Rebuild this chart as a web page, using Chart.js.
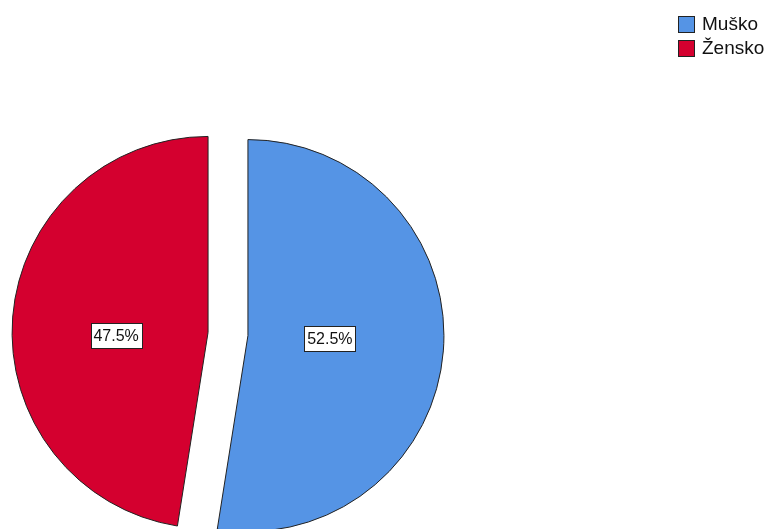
<!DOCTYPE html>
<html lang="hr">
<head>
<meta charset="UTF-8">
<title>Spol</title>
<script src="https://cdn.jsdelivr.net/npm/chart.js"></script>
<style>
  body { margin: 0; background: #fff; font-family: "Liberation Sans", Arial, sans-serif; }
  .wrap { position: relative; width: 764px; height: 529px; overflow: hidden; }
  .legend { position: absolute; left: 678px; top: 12px; }
  .legend-item { display: flex; align-items: center; height: 24px; font-size: 19px; color: #111; }
  .legend-box { width: 15px; height: 15px; border: 1px solid #222; margin-right: 7px; }
</style>
</head>
<body>
<div class="wrap">
  <canvas id="pie"></canvas>
  <div class="legend" id="legend"></div>
</div>
<script>
// podaci
const categories = ['Muško', 'Žensko'];
const percentages = [52.5, 47.5];
const sliceColors = ['#5594e5', '#d4002f'];

const EXPLODE = 20; // razmak izvučenih isječaka od središta (px)

// legenda (HTML)
const legend = document.getElementById('legend');
categories.forEach((c, i) => {
  const row = document.createElement('div');
  row.className = 'legend-item';
  row.innerHTML = '<span class="legend-box" style="background:' + sliceColors[i] + '"></span><span>' + c + '</span>';
  legend.appendChild(row);
});

function shiftOf(arc) {
  const mid = (arc.startAngle + arc.endAngle) / 2;
  return { dx: Math.cos(mid) * EXPLODE, dy: Math.sin(mid) * EXPLODE, mid };
}

// izvlačenje isječaka: svaki luk crta Chart.js, samo pomaknut duž sredine kuta
const explode = {
  id: 'explode',
  beforeDatasetDraw(chart) {
    chart.getDatasetMeta(0).data.forEach(arc => {
      if (arc._wrapped) return;
      const orig = arc.draw;
      arc.draw = function (ctx) {
        const s = shiftOf(this);
        ctx.save();
        ctx.translate(s.dx, s.dy);
        orig.call(this, ctx);
        ctx.restore();
      };
      arc._wrapped = true;
    });
  }
};

// natpisi s postotkom u bijelim kućicama
const pctLabels = {
  id: 'pctLabels',
  afterDatasetsDraw(chart) {
    const ctx = chart.ctx;
    const meta = chart.getDatasetMeta(0);
    ctx.save();
    ctx.font = '16px "Liberation Sans", Arial, sans-serif';
    ctx.textAlign = 'center';
    ctx.textBaseline = 'middle';
    meta.data.forEach((arc, i) => {
      const s = shiftOf(arc);
      const d = arc.outerRadius * 0.445;
      const x = arc.x + s.dx + Math.cos(s.mid) * d - 5;
      const y = arc.y + s.dy + 3;
      const txt = percentages[i].toFixed(1) + '%';
      const w = Math.round(ctx.measureText(txt).width + 6);
      const h = 25;
      const bx = Math.round(x - w / 2) + 0.5;
      const by = Math.round(y - h / 2) + 0.5;
      ctx.fillStyle = '#fff';
      ctx.fillRect(bx, by, w, h);
      ctx.strokeStyle = '#222';
      ctx.lineWidth = 1;
      ctx.strokeRect(bx, by, w, h);
      ctx.fillStyle = '#111';
      ctx.fillText(txt, x, y + 1);
    });
    ctx.restore();
  }
};

new Chart(document.getElementById('pie'), {
  type: 'pie',
  data: {
    labels: categories,
    datasets: [{
      data: percentages,
      backgroundColor: sliceColors,
      borderColor: '#222',
      borderWidth: 1,
      hoverOffset: 0
    }]
  },
  options: {
    responsive: true,
    maintainAspectRatio: false,
    animation: false,
    events: [],
    radius: 196,
    layout: { padding: { left: 0, right: 308, top: 139, bottom: 0 } },
    plugins: {
      legend: { display: false },
      tooltip: { enabled: false }
    }
  },
  plugins: [explode, pctLabels]
});
</script>
</body>
</html>
